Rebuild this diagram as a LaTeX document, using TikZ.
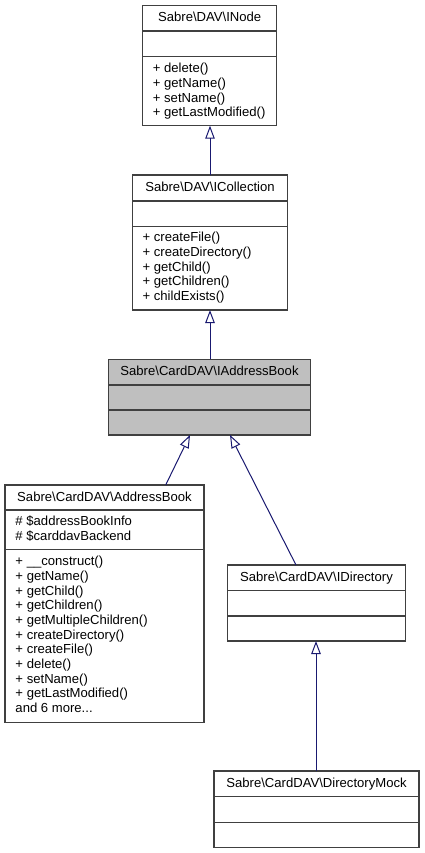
\documentclass[tikz,border=0pt]{standalone}
\usepackage{fontspec}
\setmainfont{Liberation Sans}
\usetikzlibrary{arrows.meta,calc}
\definecolor{edgeblue}{HTML}{191970}
\definecolor{boxline}{HTML}{404040}
\definecolor{boxgray}{HTML}{BFBFBF}
\newcommand{\nsep}{\textbackslash}
\newcommand{\moredots}{...}
\begin{document}
\begin{tikzpicture}[x=1pt,y=-1pt,
  cls/.style={draw=boxline, line width=1.1pt, inner sep=0pt, outer sep=0pt, anchor=north west},
  sepline/.style={draw=boxline, line width=1.1pt},
  txt/.style={inner sep=0pt, font=\fontsize{13.1}{14.7}\selectfont},
  ttl/.style={txt, anchor=base},
  mem/.style={txt, anchor=base west},
  inh/.style={draw=edgeblue, line width=1pt, -{Triangle[open, length=13pt, width=9.5pt]}}]
\useasboundingbox (0,0) rectangle (425,853);

% INode
\node[cls, minimum width=134pt, minimum height=120pt] (inode) at (142.7,5.7) {};
\draw[sepline] (142.7,31) -- (276.7,31);
\draw[sepline] (142.7,56.7) -- (276.7,56.7);
\node[ttl] (inode-t) at (209.7,22) {Sabre\nsep DAV\nsep INode};
\foreach [count=\i] \t in {+ delete(), + getName(), + setName(), + getLastModified()}
  \node[mem] (inode-m\i) at (152.7,{72.75+(\i-1)*14.7}) {\t};

% ICollection
\node[cls, minimum width=154.6pt, minimum height=135pt] (icoll) at (132.7,175) {};
\draw[sepline] (132.7,201) -- (287.3,201);
\draw[sepline] (132.7,226.7) -- (287.3,226.7);
\node[ttl] (icoll-t) at (210,191.7) {Sabre\nsep DAV\nsep ICollection};
\foreach [count=\i] \t in {+ createFile(), + createDirectory(), + getChild(), + getChildren(), + childExists()}
  \node[mem] (icoll-m\i) at (142.4,{241.8+(\i-1)*14.7}) {\t};

% IAddressBook
\node[cls, fill=boxgray, minimum width=202.4pt, minimum height=75.7pt] (iab) at (108.3,359.3) {};
\draw[sepline] (108.3,385) -- (310.7,385);
\draw[sepline] (108.3,410) -- (310.7,410);
\node[ttl] (iab-t) at (209.5,375.85) {Sabre\nsep CardDAV\nsep IAddressBook};

% AddressBook
\node[cls, minimum width=199pt, minimum height=237.3pt] (ab) at (5,485) {};
\draw[sepline] (5,510) -- (204,510);
\draw[sepline] (5,549.3) -- (204,549.3);
\node[ttl] (ab-t) at (104.5,501.2) {Sabre\nsep CardDAV\nsep AddressBook};
\foreach [count=\i] \t in {\# \$addressBookInfo, \# \$carddavBackend}
  \node[mem] (ab-a\i) at (15.3,{525.9+(\i-1)*14.7}) {\t};
\foreach [count=\i] \t in {+ \_\_construct(), + getName(), + getChild(), + getChildren(), + getMultipleChildren(), + createDirectory(), + createFile(), + delete(), + setName(), + getLastModified(), and 6 more\moredots}
  \node[mem] (ab-m\i) at (15.3,{565.6+(\i-1)*14.7}) {\t};

% IDirectory
\node[cls, minimum width=177.6pt, minimum height=76pt] (idir) at (227.7,565) {};
\draw[sepline] (227.7,590.7) -- (405.3,590.7);
\draw[sepline] (227.7,616) -- (405.3,616);
\node[ttl] (idir-t) at (316.5,581.55) {Sabre\nsep CardDAV\nsep IDirectory};

% DirectoryMock
\node[cls, minimum width=205pt, minimum height=76.3pt] (dmock) at (214,771) {};
\draw[sepline] (214,796.7) -- (419,796.7);
\draw[sepline] (214,822.3) -- (419,822.3);
\node[ttl] (dmock-t) at (316.5,787.55) {Sabre\nsep CardDAV\nsep DirectoryMock};

% inheritance edges
\draw[inh] (icoll.north -| 210,0) -- (inode.south -| 210,0);
\draw[inh] (iab.north -| 210,0) -- (icoll.south -| 210,0);
\draw[inh] (ab.north -| 165.7,0) -- (iab.south -| 190,0);
\draw[inh] (idir.north -| 296,0) -- (iab.south -| 230,0);
\draw[inh] (dmock.north -| 316,0) -- (idir.south -| 316,0);
\end{tikzpicture}
\end{document}
